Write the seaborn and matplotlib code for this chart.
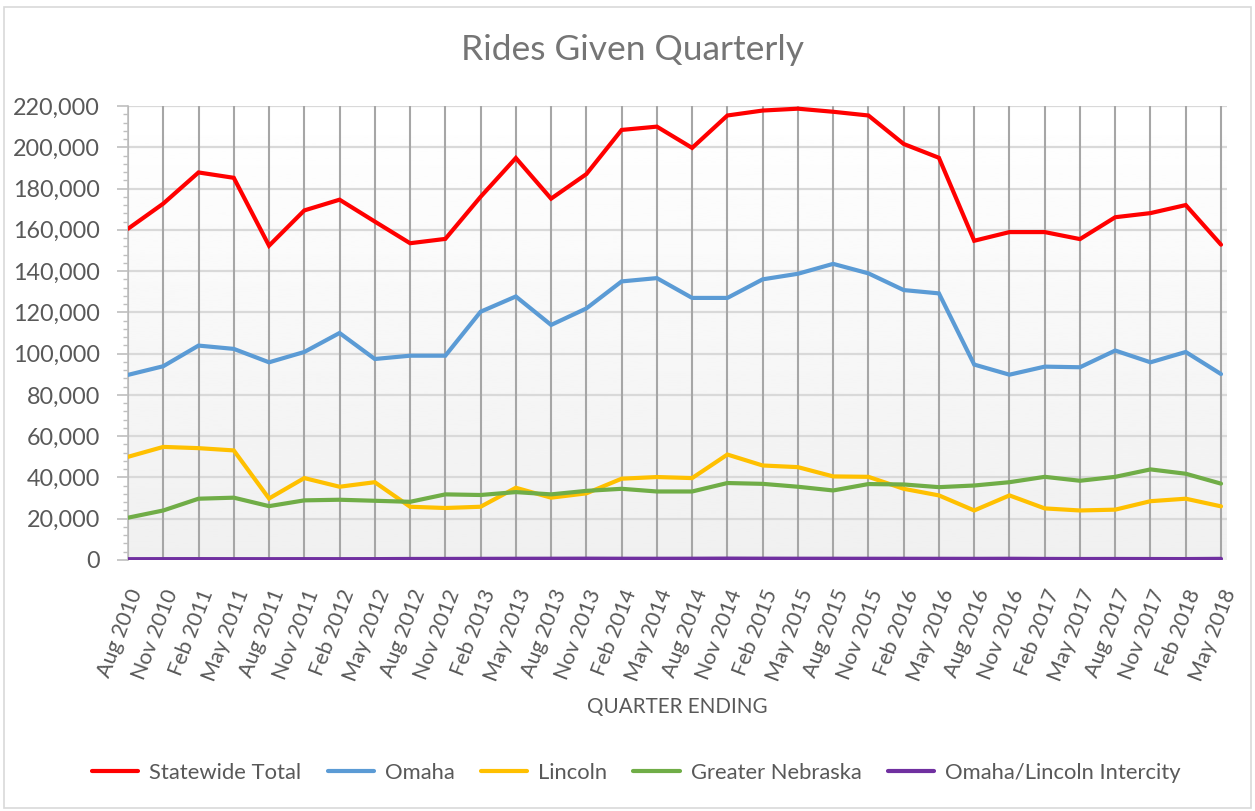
import numpy as np
import pandas as pd
import matplotlib
matplotlib.use("Agg")
import matplotlib.pyplot as plt
import seaborn as sns
from matplotlib.ticker import MultipleLocator, FuncFormatter
from matplotlib.patches import Rectangle

quarters = ["Aug 2010", "Nov 2010", "Feb 2011", "May 2011", "Aug 2011", "Nov 2011",
            "Feb 2012", "May 2012", "Aug 2012", "Nov 2012", "Feb 2013", "May 2013",
            "Aug 2013", "Nov 2013", "Feb 2014", "May 2014", "Aug 2014", "Nov 2014",
            "Feb 2015", "May 2015", "Aug 2015", "Nov 2015", "Feb 2016", "May 2016",
            "Aug 2016", "Nov 2016", "Feb 2017", "May 2017", "Aug 2017", "Nov 2017",
            "Feb 2018", "May 2018"]

statewide = [160500, 172700, 187800, 185200, 152300, 169400, 174600, 164000,
             153500, 155600, 176000, 194800, 175100, 187000, 208400, 210000,
             199700, 215400, 217800, 218700, 217200, 215400, 201600, 194900,
             154700, 158900, 158900, 155500, 166100, 168100, 172000, 152800]

omaha = [89700, 93900, 103900, 102300, 95800, 100800, 110000, 97400,
         99000, 99000, 120300, 127700, 113900, 121900, 135000, 136600,
         127000, 127000, 136000, 138700, 143500, 138900, 130800, 129200,
         94700, 89800, 93700, 93400, 101500, 95800, 100800, 90100]

lincoln = [50000, 54800, 54200, 53100, 29800, 39700, 35500, 37700,
           25800, 25200, 25800, 35000, 30200, 32300, 39400, 40200,
           39700, 51100, 45800, 45000, 40500, 40300, 34500, 31300,
           24000, 31300, 25000, 24000, 24400, 28500, 29700, 26000]

greater_ne = [20500, 24000, 29700, 30200, 26100, 28900, 29200, 28700,
              28200, 31800, 31500, 32900, 31800, 33500, 34500, 33200,
              33200, 37300, 36900, 35500, 33700, 36800, 36600, 35300,
              36100, 37700, 40300, 38400, 40300, 43900, 41800, 37000]

intercity = [400, 420, 430, 410, 400, 420, 410, 430,
             500, 520, 560, 600, 620, 650, 610, 600,
             620, 680, 640, 620, 610, 600, 590, 580,
             560, 600, 520, 480, 500, 470, 450, 560]

series_names = ["Statewide Total", "Omaha", "Lincoln", "Greater Nebraska",
                "Omaha/Lincoln Intercity"]
series_colors = ["#FF0000", "#5B9BD5", "#FFC000", "#70AD47", "#7030A0"]

frames = []
for name, vals in zip(series_names,
                      [statewide, omaha, lincoln, greater_ne, intercity]):
    frames.append(pd.DataFrame({"idx": np.arange(len(quarters)),
                                "rides": vals, "series": name}))
df = pd.concat(frames, ignore_index=True)

sns.set_theme(style="white")
plt.rcParams["font.family"] = ["Lato", "DejaVu Sans"]

W, H = 1255, 811
fig = plt.figure(figsize=(W / 100, H / 100), dpi=100)
ax = fig.add_axes([128 / W, 1 - 560 / H, (1227 - 128) / W, (560 - 106) / H])

# gradient background
grad = np.linspace(1.0, 0.94, 256).reshape(-1, 1)
ax.imshow(grad, cmap="gray", vmin=0, vmax=1, aspect="auto",
          extent=[0, 31.17, 0, 220000], origin="upper", zorder=0)

sns.lineplot(data=df, x="idx", y="rides", hue="series", hue_order=series_names,
             palette=series_colors, linewidth=3, ax=ax, legend=True,
             zorder=5, solid_joinstyle="miter")

ax.set_xlim(0, 31.17)
ax.set_ylim(0, 220000)

# grid lines
ax.yaxis.set_major_locator(MultipleLocator(20000))
ax.yaxis.set_minor_locator(MultipleLocator(4000))
for yv in range(20000, 220001, 20000):
    ax.axhline(yv, color="#d9d9d9", linewidth=1.6, zorder=1)
ax.set_xticks(np.arange(len(quarters)))
for xv in range(len(quarters)):
    ax.axvline(xv, color="#a6a6a6", linewidth=1.5, zorder=2)

ax.yaxis.set_major_formatter(FuncFormatter(lambda v, p: f"{int(v):,}"))
ax.set_xticklabels(quarters, rotation=69, ha="right", va="top",
                   rotation_mode="anchor", fontsize=15.5, color="#595959")
ax.tick_params(axis="x", length=0, pad=19)
ax.tick_params(axis="y", which="major", direction="out", length=8, width=1.2,
               color="#bfbfbf", labelsize=16.8, labelcolor="#595959", pad=12,
               left=True)
ax.tick_params(axis="y", which="minor", direction="out", length=3.6, width=1.0,
               color="#bfbfbf", left=True)

for s in ["top", "right", "bottom"]:
    ax.spines[s].set_visible(False)
ax.spines["left"].set_color("#bfbfbf")
ax.spines["left"].set_linewidth(1.2)

ax.set_xlabel("QUARTER ENDING", fontsize=14.9, color="#595959", labelpad=9)
ax.set_ylabel("")

fig.text(0.504, 1 - 50 / H, "Rides Given Quarterly", ha="center", va="center",
         fontsize=25.5, color="#757575")

handles, labels = ax.get_legend_handles_labels()
ax.get_legend().remove()
fig.legend(handles, labels, loc="center", bbox_to_anchor=(0.507, 1 - 773 / H),
           ncol=5, frameon=False, fontsize=15.8, handlelength=2.1,
           columnspacing=1.2, handletextpad=0.5, labelcolor="#595959")

fig.patches.append(Rectangle((4 / W, 3 / H), 1 - 8 / W, 1 - 10 / H,
                             transform=fig.transFigure, fill=False,
                             edgecolor="#d9d9d9", linewidth=1.2))

fig.savefig("out.png", dpi=100)
